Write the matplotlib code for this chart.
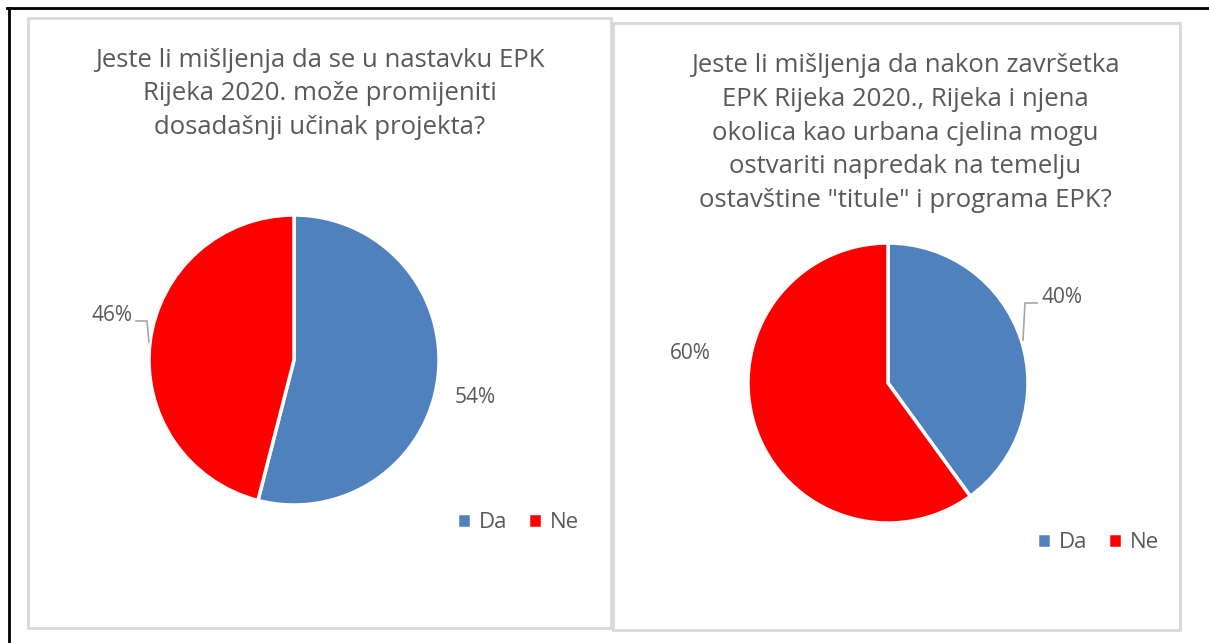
import matplotlib.pyplot as plt
from matplotlib.patches import Rectangle
from matplotlib.lines import Line2D

W, H = 1209, 643

categories = ['Da', 'Ne']
left_values = [54, 46]
right_values = [40, 60]
colors = ['#4F81BD', '#FF0000']

left_title = 'Jeste li mišljenja da se u nastavku EPK\nRijeka 2020. može promijeniti\ndosadašnji učinak projekta?'
right_title = ('Jeste li mišljenja da nakon završetka\nEPK Rijeka 2020., Rijeka i njena\n'
               'okolica kao urbana cjelina mogu\nostvariti napredak na temelju\n'
               'ostavštine "titule" i programa EPK?')

TXT = '#595959'
plt.rcParams['font.family'] = ['Open Sans', 'DejaVu Sans']

fig = plt.figure(figsize=(W / 100, H / 100), dpi=100)


def px_rect(x0, y0, x1, y1):
    # pixel box (top-left origin) -> figure fraction [l, b, w, h]
    return [x0 / W, 1 - y1 / H, (x1 - x0) / W, (y1 - y0) / H]


# outer frame (top and left only) and the two chart panels
fig.add_artist(Line2D([7 / W, 1], [1 - 8 / H] * 2, color='black', lw=2))
fig.add_artist(Line2D([9 / W] * 2, [1 - 8 / H, 0], color='black', lw=2))
for x0, y0, x1, y1 in [(28, 18, 611, 628), (613, 23, 1180, 630)]:
    l, b, w, h = px_rect(x0, y0, x1, y1)
    fig.add_artist(Rectangle((l, b), w, h, transform=fig.transFigure,
                             fill=False, edgecolor='#D9D9D9', lw=2))


def draw_pie(center, r, values, labels_pos, leader, legend_xy):
    cx, cy = center
    ax = fig.add_axes(px_rect(cx - r, cy - r, cx + r, cy + r))
    wedges, _ = ax.pie(values, colors=colors, startangle=90, counterclock=False,
                       radius=1, wedgeprops=dict(edgecolor='white', linewidth=2.5))
    ax.set_xlim(-1, 1)
    ax.set_ylim(-1, 1)
    ax.set_aspect('equal')
    for v, (dx, dy) in zip(values, labels_pos):
        ax.text(dx, dy, f'{v}%', ha='center', va='center', fontsize=15,
                color=TXT, clip_on=False)
    if leader is not None:
        xs, ys = zip(*[((px - cx) / r, (cy - py) / r) for px, py in leader])
        ax.plot(xs, ys, color='#A6A6A6', lw=1.2, clip_on=False)
    lx, ly = legend_xy
    ax.legend(wedges, categories, loc='center', bbox_to_anchor=(lx / W, 1 - ly / H),
              bbox_transform=fig.transFigure, ncol=2, frameon=False, fontsize=16,
              handlelength=0.65, handleheight=0.65, handletextpad=0.35,
              columnspacing=0.9, labelcolor=TXT)
    return ax


draw_pie((294, 360), 145, left_values,
         [(1.25, -0.26), (-1.255, 0.31)],
         [(136, 321), (147, 321), (149, 342)],
         (518, 523))
draw_pie((888, 383), 140, right_values,
         [(1.24, 0.61), (-1.41, 0.21)],
         [(1037, 303), (1025, 303), (1023, 340)],
         (1098, 543))

fig.text(320 / W, 1 - 94 / H, left_title, ha='center', va='center',
         fontsize=18.5, color=TXT, linespacing=1.45)
fig.text(905 / W, 1 - 133 / H, right_title, ha='center', va='center',
         fontsize=18.5, color=TXT, linespacing=1.45)

fig.savefig('out.png', dpi=100)
